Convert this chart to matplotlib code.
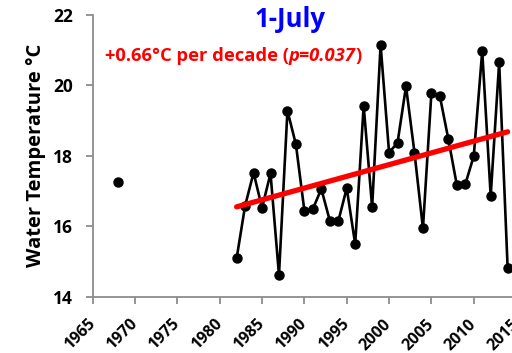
import numpy as np
import matplotlib
matplotlib.use("Agg")
import matplotlib.pyplot as plt
import matplotlib.transforms as mtransforms

plt.rcParams['font.family'] = ['Open Sans', 'DejaVu Sans']

early_year = [1968]
early_temp = [17.25]

years = list(range(1982, 2015))
temps = [15.09, 16.58, 17.52, 16.52, 17.50, 14.62, 19.28, 18.32, 16.44, 16.49,
         17.06, 16.16, 16.14, 17.08, 15.49, 19.42, 16.54, 21.15, 18.09, 18.37,
         19.97, 18.09, 15.94, 19.79, 19.69, 18.47, 17.17, 17.19, 17.99, 20.97,
         16.86, 20.65, 14.82]

trend_years = [1982, 2014]
trend_vals = [16.55, 18.68]

xticks = list(range(1965, 2020, 5))
yticks = [14, 16, 18, 20, 22]

fig = plt.figure(figsize=(5.12, 3.53), dpi=100)
ax = fig.add_axes([0.181, 0.1595, 1.008 - 0.181, 0.958 - 0.1595])

ax.plot(years, temps, color='black', lw=1.9, marker='o', ms=6.5, zorder=3, clip_on=False)
ax.plot(early_year, early_temp, color='black', marker='o', ms=6.5, ls='none', zorder=3)
ax.plot(trend_years, trend_vals, color='#ff0000', lw=3.8, zorder=4, solid_capstyle='round')

ax.set_xlim(1965, 2015)
ax.set_ylim(14, 22)
ax.set_xticks(xticks)
ax.set_yticks(yticks)
ax.set_xticklabels([str(t) for t in xticks], rotation=45, ha='right', va='center',
                   rotation_mode='anchor', fontsize=11.5, fontweight='bold')
ax.set_yticklabels([str(t) for t in yticks], fontsize=12.5, fontweight='bold')

offset = mtransforms.ScaledTranslation(6 / 100, 0, fig.dpi_scale_trans)
for lab in ax.get_xticklabels():
    lab.set_transform(lab.get_transform() + offset)

for s in ['top', 'right']:
    ax.spines[s].set_visible(False)
for s in ['left', 'bottom']:
    ax.spines[s].set_color('#8c8c8c')
    ax.spines[s].set_linewidth(1.3)
ax.tick_params(axis='both', direction='out', color='#8c8c8c', width=1.3, length=5)
ax.tick_params(axis='y', pad=9)
ax.tick_params(axis='x', pad=13)

ax.set_ylabel('Water Temperature °C', fontsize=14.5, fontweight='bold', labelpad=5)

fig.text(0.566, 0.944, '1-July', color='#0000ff', fontsize=18.5, fontweight='bold',
         ha='center', va='center')
fs = 13.2
t1 = fig.text(0.205, 0.84, '+0.66°C per decade (', color='#ff0000', fontsize=fs,
              fontweight='bold', ha='left', va='center')

fig.canvas.draw()
r = fig.canvas.get_renderer()
bb = t1.get_window_extent(r)
x2 = bb.x1 / fig.bbox.width
t2 = fig.text(x2, 0.84, 'p=0.037', color='#ff0000', fontsize=fs, fontweight='bold',
              fontstyle='italic', ha='left', va='center')
bb2 = t2.get_window_extent(r)
x3 = bb2.x1 / fig.bbox.width
fig.text(x3, 0.84, ')', color='#ff0000', fontsize=fs, fontweight='bold', ha='left', va='center')

fig.savefig('out.png', dpi=100)
